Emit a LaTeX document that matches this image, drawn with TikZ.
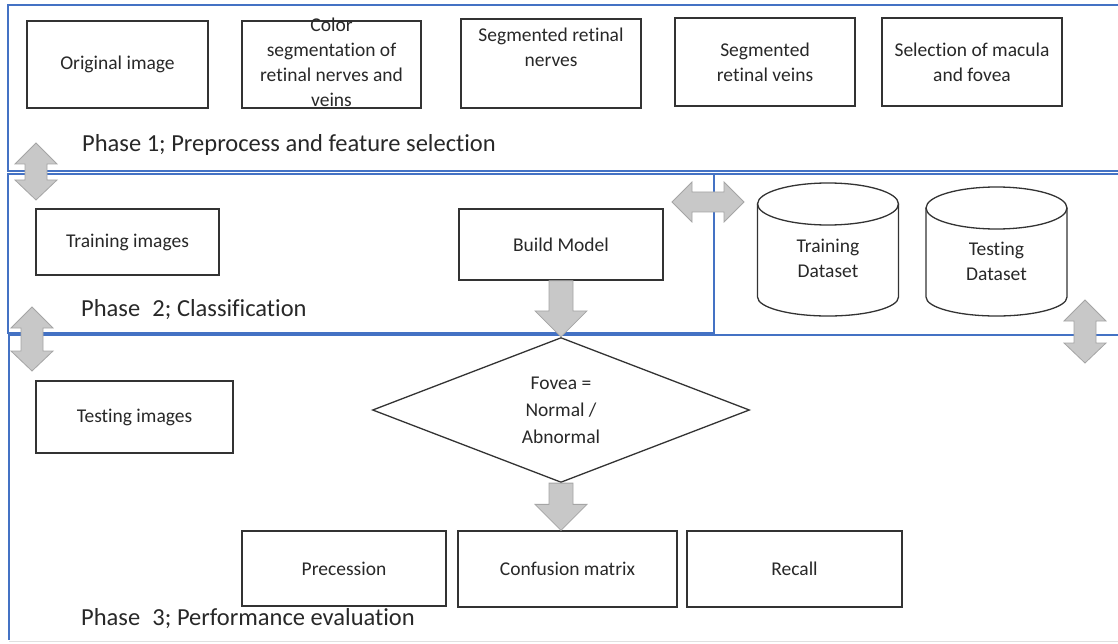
\documentclass[tikz,border=0pt]{standalone}
\usepackage{fontspec}
\setmainfont{Carlito}[RawFeature={-liga,-clig,-calt,-dlig}]
\usetikzlibrary{shapes.geometric,calc}
\definecolor{pblue}{RGB}{68,114,196}
\definecolor{agray}{RGB}{200,200,200}
\definecolor{agrayd}{RGB}{165,165,165}
\definecolor{tx}{RGB}{40,40,40}
\newcommand{\vdarr}[2]{\draw[blk] (#1) -- ($(#1)+(21,21)$) -- ($(#1)+(11,21)$) -- ($(#2)+(11,-20)$) -- ($(#2)+(21,-20)$) -- (#2) -- ($(#2)+(-21,-20)$) -- ($(#2)+(-11,-20)$) -- ($(#1)+(-11,21)$) -- ($(#1)+(-21,21)$) -- cycle;}
\newcommand{\hdarr}[2]{\draw[blk] (#1) -- ($(#1)+(20,-20)$) -- ($(#1)+(20,-10)$) -- ($(#2)+(-20,-10)$) -- ($(#2)+(-20,-20)$) -- (#2) -- ($(#2)+(-20,20)$) -- ($(#2)+(-20,10)$) -- ($(#1)+(20,10)$) -- ($(#1)+(20,20)$) -- cycle;}
\begin{document}
\begin{tikzpicture}[x=1pt,y=-1pt,
 box/.style={draw=black!80,line width=1.3pt,fill=white,inner sep=0pt,align=center,font=\fontsize{19.5}{25}\selectfont,text=tx},
 panel/.style={draw=pblue,line width=1.4pt},
 blk/.style={fill=agray,draw=agrayd,line width=0.8pt},
 phase/.style={anchor=west,inner sep=0pt,font=\fontsize{24.5}{29}\selectfont,text=tx},
 lbl/.style={inner sep=0pt,align=center,font=\fontsize{19.5}{25}\selectfont,text=tx},
 cyl/.style={draw=black!80,line width=1.3pt}]
\useasboundingbox (0,0) rectangle (1118,644);
\fill[white] (0,0) rectangle (1118,644);
% panels
\draw[panel] (1118,5) -- (8,5) -- (8,171) -- (1118,171);
\draw[panel] (714,174) -- (8,174) -- (8,333) -- (714,333);
\draw[panel] (1118,174) -- (714,174) -- (714,335) -- (1118,335);
\draw[panel] (1118,335) -- (9,335) -- (9,640);
\draw[black!12,line width=1pt] (9,641) -- (1118,641);
% phase 1
\node[box,minimum width=181pt,minimum height=87pt] (orig) at (117.5,64.5) {Original image};
\node[box,minimum width=179pt,minimum height=87pt] (colseg) at (331.5,64.5) {};
\node[lbl] (colsegt) at (331.5,62) {Color\\segmentation of\\retinal nerves and\\veins};
\node[box,minimum width=180pt,minimum height=89pt] (segn) at (551,63.5) {Segmented retinal\\nerves\\\strut};
\node[box,minimum width=180pt,minimum height=88pt] (segv) at (765,62) {Segmented\\retinal veins};
\node[box,minimum width=180pt,minimum height=88pt] (sel) at (972,62) {Selection of macula\\and fovea};
\node[phase] (ph1) at (82,145) {Phase 1; Preprocess and feature selection};
% phase 2
\node[box,minimum width=183pt,minimum height=66pt] (train) at (127.5,242) {Training images};
\node[box,minimum width=204pt,minimum height=71pt] (build) at (561,244.5) {Build Model};
\node[phase] (ph2) at (81,310) {Phase\hspace{0.5em}2; Classification};
% cylinders
\draw[cyl] (757.5,204) -- (757.5,297) arc[start angle=180,end angle=360,x radius=70.5pt,y radius=19pt] -- (898.5,204);
\draw[cyl] (828,204) ellipse[x radius=70.5pt,y radius=21pt];
\node[lbl] (tds) at (828,258.5) {Training\\Dataset};
\draw[cyl] (926,208) -- (926,297) arc[start angle=180,end angle=360,x radius=70.5pt,y radius=19pt] -- (1067,208);
\draw[cyl] (996.5,208) ellipse[x radius=70.5pt,y radius=21pt];
\node[lbl] (tsd) at (996.5,261.5) {Testing\\Dataset};
% phase 3
\node[box,minimum width=197pt,minimum height=72pt] (test) at (134.5,417) {Testing images};
\node[draw=black!80,line width=1.3pt,fill=white,shape=diamond,minimum width=377pt,minimum height=132pt,inner sep=0pt,align=center,font=\fontsize{19.5}{27}\selectfont,text=tx] (dia) at (561,410) {Fovea =\\Normal /\\Abnormal};
\node[box,minimum width=204pt,minimum height=75pt] (prec) at (344,568.5) {Precession};
\node[box,minimum width=219pt,minimum height=76pt] (conf) at (567.5,569) {Confusion matrix};
\node[box,minimum width=215pt,minimum height=76pt] (recall) at (794.5,569) {Recall};
\node[phase] (ph3) at (81,619) {Phase\hspace{0.5em}3; Performance evaluation};
% block arrows
\draw[blk] ($(build.south)+(-12,0)$) -- ($(build.south)+(12,0)$) -- ($(dia.north)+(12,-26)$) -- ($(dia.north)+(26,-26)$) -- (dia.north) -- ($(dia.north)+(-26,-26)$) -- ($(dia.north)+(-12,-26)$) -- cycle;
\coordinate (c1) at (dia.south |- conf.north);
\draw[blk] ($(dia.south)+(-12,0)$) -- ($(dia.south)+(12,0)$) -- ($(c1)+(12,-26)$) -- ($(c1)+(26,-26)$) -- (c1) -- ($(c1)+(-26,-26)$) -- ($(c1)+(-12,-26)$) -- cycle;
\coordinate (la1t) at (36,143); \coordinate (la1b) at (36,200);
\vdarr{la1t}{la1b}
\coordinate (la2t) at (32,307); \coordinate (la2b) at (32,371);
\vdarr{la2t}{la2b}
\coordinate (rat) at (1085,300); \coordinate (rab) at (1085,363);
\vdarr{rat}{rab}
\coordinate (hal) at (672,202); \coordinate (har) at (744,202);
\hdarr{hal}{har}
\end{tikzpicture}
\end{document}
